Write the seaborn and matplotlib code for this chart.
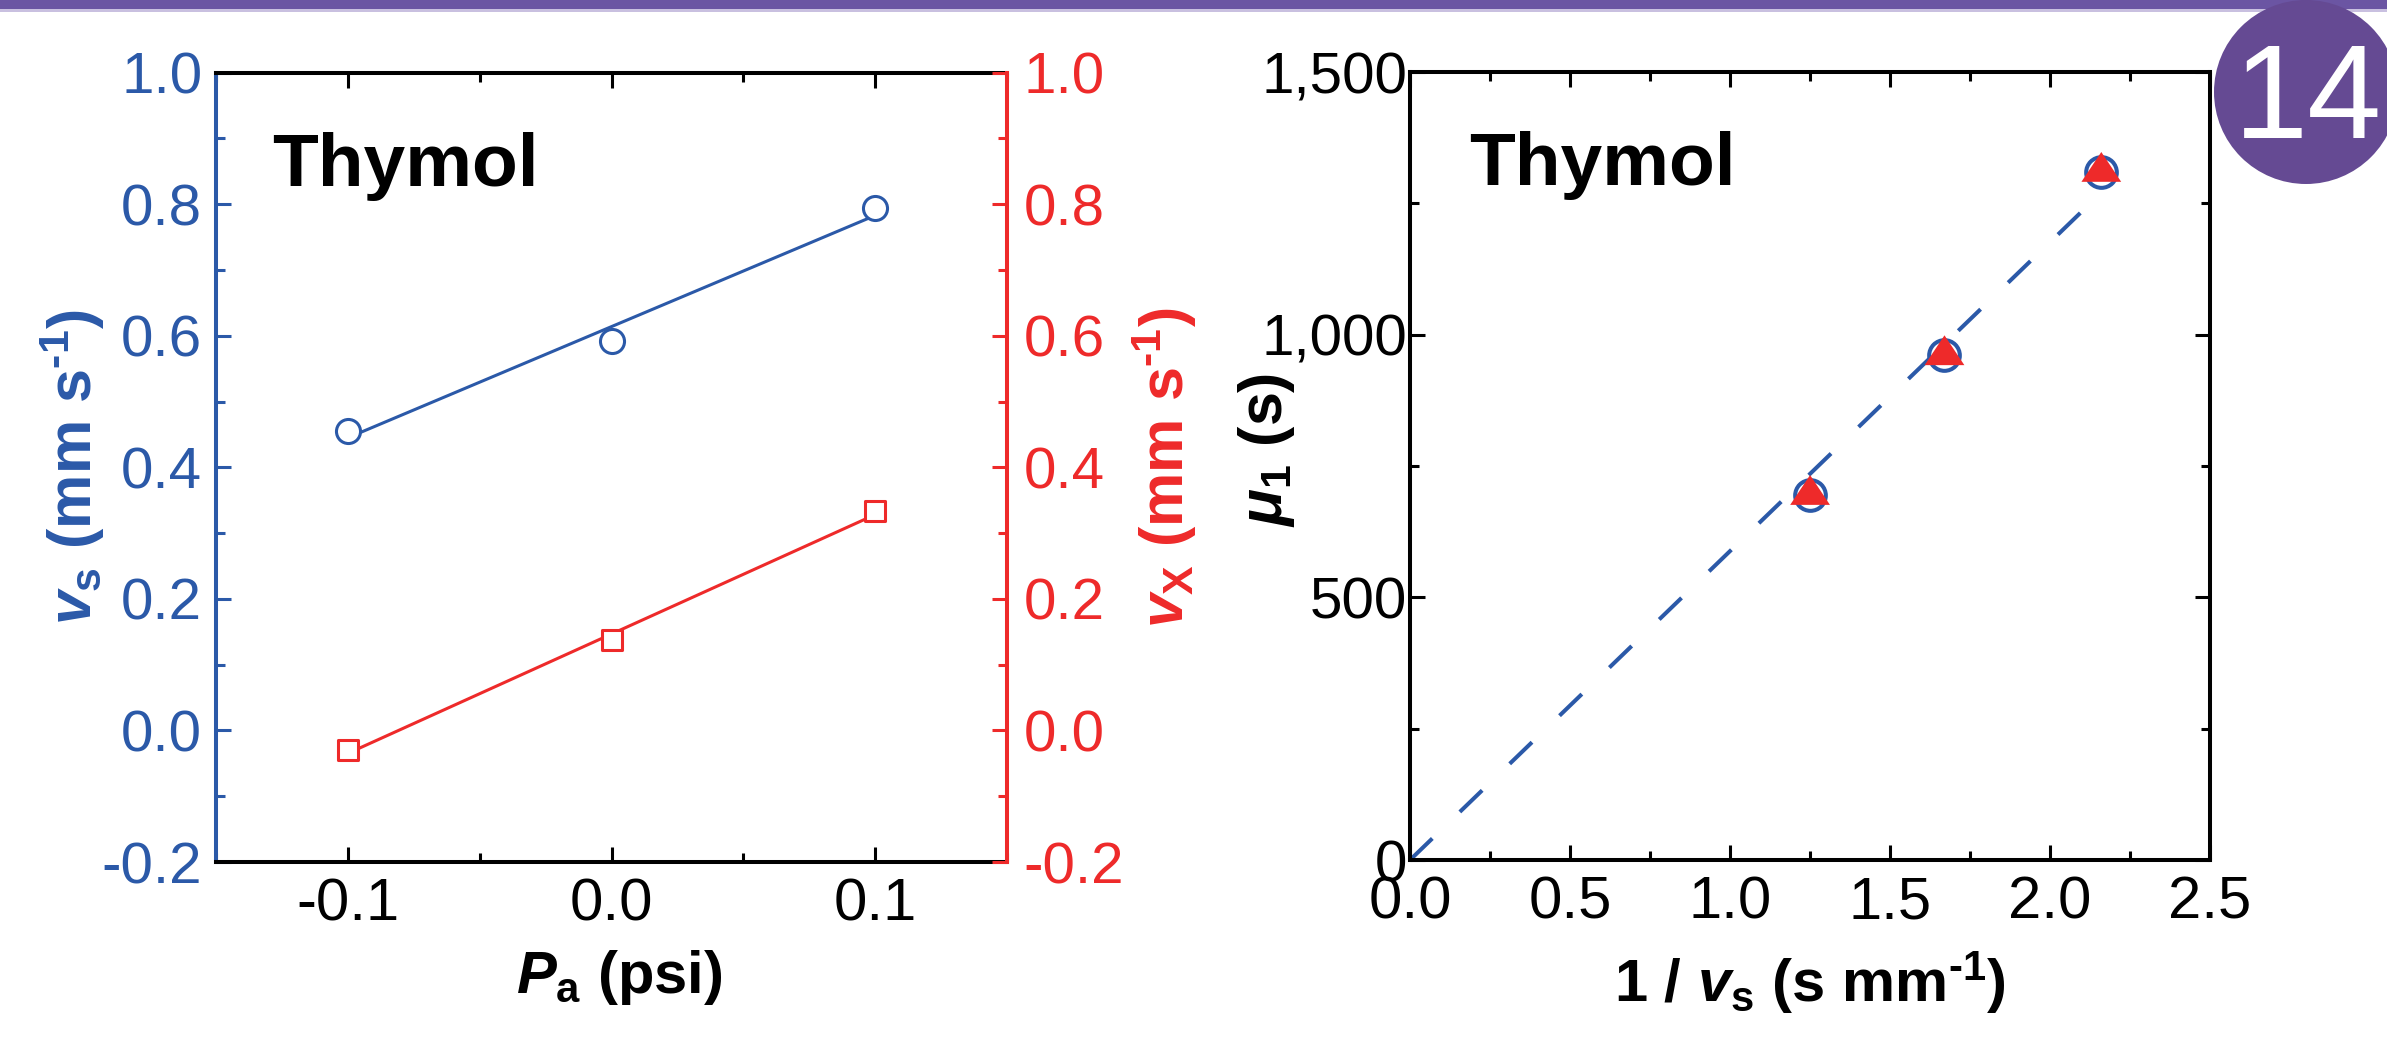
import numpy as np
import matplotlib
matplotlib.use("Agg")
import matplotlib.pyplot as plt
from matplotlib.patches import Ellipse, Rectangle
from matplotlib.ticker import MultipleLocator, FuncFormatter
import seaborn as sns

# left panel: velocities vs applied pressure
pressure = [-0.1, 0.0, 0.1]
v_s = [0.456, 0.592, 0.794]
v_x = [-0.030, 0.137, 0.333]

# right panel: first moment vs inverse velocity
inv_v_s = [1.25, 1.67, 2.16]
mu1_circle = [695, 961, 1310]
mu1_triangle = [695, 961, 1310]

panel_label = "Thymol"
page_number = "14"

BLUE = "#2B59A8"
RED = "#EE2A2A"
PURPLE = "#6B55A3"
NARROW = ["Liberation Sans Narrow", "Liberation Sans"]

sns.set_theme(style="ticks")
plt.rcParams.update({
    "font.family": ["Liberation Sans", "DejaVu Sans"],
    "mathtext.fontset": "custom",
    "mathtext.rm": "Liberation Sans:bold",
    "mathtext.it": "Liberation Sans:italic:bold",
    "mathtext.bf": "Liberation Sans:bold",
    "axes.unicode_minus": False,
    "axes.linewidth": 2.9,
    "axes.edgecolor": "black",
    "xtick.color": "black",
    "ytick.color": "black",
    "text.color": "black",
    "axes.labelcolor": "black",
})

fmt1 = FuncFormatter(lambda v, _: f"{round(v, 6) + 0.0:.1f}")
fmt_k = FuncFormatter(lambda v, _: f"{v:,.0f}")
inv = r"$^{\text{-}1}$"

fig = plt.figure(figsize=(23.87, 10.52), dpi=100)
ax_l = fig.add_axes([0.0905, 0.1806, 0.3314, 0.7503])
ax_r = fig.add_axes([0.5907, 0.1825, 0.3352, 0.7490])

# ---- left panel ----
sns.regplot(x=pressure, y=v_s, ax=ax_l, ci=None, color=BLUE, marker="o",
            scatter_kws=dict(s=300, facecolors="white", linewidths=2.2, alpha=1, zorder=3),
            line_kws=dict(lw=2.2, zorder=2))
ax_l2 = ax_l.twinx()
sns.regplot(x=pressure, y=v_x, ax=ax_l2, ci=None, color=RED, marker="s",
            scatter_kws=dict(s=210, facecolors="white", linewidths=2.2, alpha=1, zorder=3),
            line_kws=dict(lw=2.2, zorder=2))

for a in (ax_l, ax_l2):
    a.set_ylim(-0.2, 1.0)
    a.yaxis.set_major_locator(MultipleLocator(0.2))
    a.yaxis.set_minor_locator(MultipleLocator(0.1))
    a.yaxis.set_major_formatter(fmt1)
ax_l.set_xlim(-0.15, 0.15)
ax_l.xaxis.set_major_locator(MultipleLocator(0.1))
ax_l.xaxis.set_minor_locator(MultipleLocator(0.05))
ax_l.xaxis.set_major_formatter(fmt1)

ax_l.tick_params(which="both", direction="in", top=True, right=False, width=2.2, labelsize=42)
ax_l.tick_params(which="major", length=10.8)
ax_l.tick_params(which="minor", length=6.5)
ax_l.tick_params(axis="y", which="both", colors=BLUE, pad=10)
ax_l.tick_params(axis="x", pad=11.5, labelsize=43, labelfontfamily=NARROW)
ax_l.spines["left"].set_color(BLUE)
ax_l.spines["right"].set_visible(False)

ax_l2.tick_params(axis="y", which="both", direction="in", colors=RED, width=2.2, labelsize=42, pad=12)
ax_l2.tick_params(which="major", length=10.8)
ax_l2.tick_params(which="minor", length=6.5)
for s in ("left", "top", "bottom"):
    ax_l2.spines[s].set_visible(False)
ax_l2.spines["right"].set_color(RED)

ax_l.set_ylabel(r"$v_\mathrm{s}$ (mm s" + inv + ")", color=BLUE, fontsize=44, fontweight="bold")
ax_l.yaxis.set_label_coords(-0.138, 0.5)
ax_l2.set_ylabel(r"$v_\mathrm{X}$ (mm s" + inv + ")", color=RED, fontsize=44, fontweight="bold", rotation=90)
ax_l2.yaxis.set_label_coords(1.1555, 0.5)
ax_l.set_xlabel(r"$P_\mathrm{a}$ (psi)", fontsize=43, fontweight="bold")
ax_l.xaxis.set_label_coords(0.51, -0.166)
ax_l.xaxis.label.set_verticalalignment("baseline")
ax_l.text(0.0708, 0.857, panel_label, transform=ax_l.transAxes, fontsize=54,
          fontweight="bold", va="baseline")

# ---- right panel ----
xs = np.array(inv_v_s)
ys = np.array(mu1_circle)
slope = (xs * ys).sum() / (xs ** 2).sum()
fit_x = np.array([0.0, xs.max()])
sns.lineplot(x=fit_x, y=slope * fit_x, ax=ax_r, color=BLUE, lw=2.9,
             linestyle=(0, (7.7, 9.5)), zorder=2)
sns.scatterplot(x=inv_v_s, y=mu1_circle, ax=ax_r, marker="o", s=488,
                facecolor="white", edgecolor=BLUE, linewidth=2.9, zorder=3)
tri = [(0, 1), (-1, -0.5), (1, -0.5)]
sns.scatterplot(x=inv_v_s, y=mu1_triangle, ax=ax_r, marker=tri, s=820,
                color=RED, edgecolor="none", linewidth=0, zorder=4)

ax_r.set_xlim(0, 2.5)
ax_r.set_ylim(0, 1500)
ax_r.xaxis.set_major_locator(MultipleLocator(0.5))
ax_r.xaxis.set_minor_locator(MultipleLocator(0.25))
ax_r.yaxis.set_major_locator(MultipleLocator(500))
ax_r.yaxis.set_minor_locator(MultipleLocator(250))
ax_r.xaxis.set_major_formatter(fmt1)
ax_r.yaxis.set_major_formatter(fmt_k)
ax_r.tick_params(which="both", direction="in", top=True, right=True, width=2.2, labelsize=42)
ax_r.tick_params(which="major", length=10.8)
ax_r.tick_params(which="minor", length=6.5)
ax_r.tick_params(axis="y", pad=2)
ax_r.tick_params(axis="x", pad=11, labelsize=43, labelfontfamily=NARROW)

ax_r.set_ylabel(r"$\mu_1$ (s)", fontsize=44, fontweight="bold")
ax_r.yaxis.set_label_coords(-0.141, 0.52)
ax_r.set_xlabel(r"1 / $v_\mathrm{s}$ (s mm" + inv + ")", fontsize=43, fontweight="bold")
ax_r.xaxis.set_label_coords(0.5, -0.180)
ax_r.xaxis.label.set_verticalalignment("baseline")
ax_r.text(0.074, 0.857, panel_label, transform=ax_r.transAxes, fontsize=54,
          fontweight="bold", va="baseline")

# ---- page decoration ----
W, H = 2387, 1052
fig.patches.append(Rectangle((0, 1 - 9 / H), 1, 9 / H, transform=fig.transFigure,
                             color=PURPLE, lw=0))
fig.patches.append(Rectangle((0, 1 - 11.5 / H), 1, 2.5 / H, transform=fig.transFigure,
                             color="#C9C0E0", lw=0))
fig.patches.append(Ellipse((2306 / W, 1 - 92 / H), 184 / W, 184 / H,
                           transform=fig.transFigure, color="#654A93", lw=0))
fig.text(2308 / W, 1 - 138 / H, page_number, color="white", fontsize=96,
         ha="center", va="baseline")

fig.savefig("out.png", dpi=100)
